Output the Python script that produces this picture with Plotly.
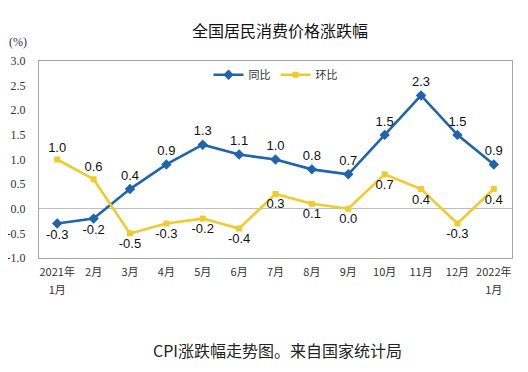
import plotly.graph_objects as go

months = ["2021年<br>1月", "2月", "3月", "4月", "5月", "6月", "7月", "8月", "9月",
          "10月", "11月", "12月", "2022年<br>1月"]
yoy = [-0.3, -0.2, 0.4, 0.9, 1.3, 1.1, 1.0, 0.8, 0.7, 1.5, 2.3, 1.5, 0.9]
mom = [1.0, 0.6, -0.5, -0.3, -0.2, -0.4, 0.3, 0.1, 0.0, 0.7, 0.4, -0.3, 0.4]
yoy_pos = ["bottom center", "bottom center"] + ["top center"] * 11
mom_pos = ["top center", "top center"] + ["bottom center"] * 11
y_ticks = [-1.0, -0.5, 0.0, 0.5, 1.0, 1.5, 2.0, 2.5, 3.0]

BLUE = "#1f64ae"
YELLOW = "#f1cb2c"
LABEL_FONT = dict(family="Liberation Sans, Arial", size=13, color="#111")

fig = go.Figure()
fig.add_trace(go.Scatter(
    x=months, y=yoy, name="同比", mode="lines+markers+text",
    line=dict(color=BLUE, width=2.6),
    marker=dict(symbol="diamond", size=8, color=BLUE),
    text=[f"{v:.1f}" for v in yoy], textposition=yoy_pos, textfont=LABEL_FONT,
))
fig.add_trace(go.Scatter(
    x=months, y=mom, name="环比", mode="lines+markers+text",
    line=dict(color=YELLOW, width=2.6),
    marker=dict(symbol="square", size=6, color=YELLOW),
    text=[f"{v:.1f}" for v in mom], textposition=mom_pos, textfont=LABEL_FONT,
))

tick_text = [f'<span style="font-size:11px">{m}</span>' for m in months]

# page body has an 8px margin, so the figure is 520x364 placed at (8, 8)
fig.update_layout(
    width=520, height=364,
    margin=dict(l=31, r=16, t=53, b=114, autoexpand=False),
    paper_bgcolor="white", plot_bgcolor="white",
    title=dict(text="全国居民消费价格涨跌幅", x=0.523, xanchor="center",
               y=0.937, yanchor="middle",
               font=dict(family="Noto Sans CJK SC", size=16, color="#111")),
    showlegend=True,
    legend=dict(orientation="h", x=0.5, xanchor="center", y=0.93, yanchor="middle",
                font=dict(family="Noto Sans CJK SC", size=11, color="#333"),
                bgcolor="rgba(0,0,0,0)", itemwidth=30, tracegroupgap=0),
    xaxis=dict(type="category", range=[-0.5, len(months) - 0.5],
               tickvals=months, ticktext=tick_text, automargin=False,
               showgrid=False, zeroline=False,
               showline=True, mirror=True, linecolor="#a6a6a6", linewidth=1,
               ticks="", tickfont=dict(family="Noto Sans CJK SC", size=14, color="#333"),
               tickangle=0),
    xaxis2=dict(overlaying="x", anchor="free", position=0.25, type="linear",
                range=[-0.5, len(months) - 0.5],
                tickvals=[i + 0.5 for i in range(len(months) - 1)],
                ticks="inside", ticklen=4, tickcolor="#bfbfbf", automargin=False,
                showticklabels=False, showgrid=False, zeroline=False, showline=False),
    yaxis=dict(range=[-1.0, 3.0], tickvals=y_ticks,
               ticktext=[f"{v:.1f}" for v in y_ticks], automargin=False,
               showgrid=False, zeroline=True, zerolinecolor="#bfbfbf", zerolinewidth=1,
               showline=True, mirror=True, linecolor="#a6a6a6", linewidth=1,
               ticks="", ticklabelstandoff=10,
               tickfont=dict(family="Liberation Serif, Times New Roman", size=12, color="#333")),
)

fig.add_annotation(text="(%)", xref="paper", yref="paper", x=-0.044, y=1.096,
                   showarrow=False, xanchor="center", yanchor="middle",
                   font=dict(family="Liberation Serif", size=12, color="#333"))
fig.add_annotation(text="CPI涨跌幅走势图。来自国家统计局", xref="paper", yref="paper",
                   x=0.505, y=-0.467, showarrow=False, xanchor="center", yanchor="middle",
                   font=dict(family="Noto Sans CJK SC", size=16, color="#222"))

fig.write_html("out.html")
